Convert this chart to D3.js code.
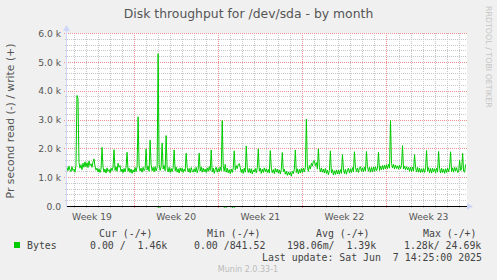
<!DOCTYPE html>
<html>
<head>
<meta charset="utf-8">
<script src="https://cdn.jsdelivr.net/npm/d3@7"></script>
<style>
  body { margin: 0; background: #f0f0f0; }
  svg { display: block; }
  text { font-family: "DejaVu Sans", sans-serif; }
  .mono { font-family: "DejaVu Sans Mono", monospace; white-space: pre; }
</style>
</head>
<body>
<svg id="chart" width="497" height="280"></svg>
<script>
// ---- data ----
const title = "Disk throughput for /dev/sda - by month";
const yLabel = "Pr second read (-) / write (+)";
const yTicks = [0, 1, 2, 3, 4, 5, 6];              // thousands of bytes / s
const rangeStart = "2025-05-05T10:04:00Z";
const rangeEnd = "2025-06-07T16:44:00Z";

// write bytes/s (in k), one sample every 2 hours, starting 2025-05-05 10:00 UTC
const writeStart = "2025-05-05T10:00:00Z";
const stepHours = 2;
const writeValues = [
  1.36, 1.24, 1.40, 1.27, 1.21, 1.38, 1.25,                              // May 5 (from 10:00)
  1.30, 1.19, 1.42, 3.85, 3.75, 1.52, 1.33, 1.45, 1.28, 1.50, 1.36, 1.55, // May 6
  1.38, 1.52, 1.35, 1.58, 1.42, 1.48, 1.36, 1.55, 1.65, 1.40, 1.26, 1.33, // May 7
  1.20, 1.31, 1.18, 1.29, 2.05, 1.36, 1.19, 1.30, 1.16, 1.34, 1.22, 1.28, // May 8
  1.17, 1.33, 1.24, 1.37, 1.97, 1.25, 1.38, 1.22, 1.50, 1.36, 1.42, 1.21, // May 9
  1.30, 1.17, 1.32, 1.20, 1.36, 1.88, 1.22, 1.34, 1.18, 1.30, 1.15, 1.27, // May 10
  1.19, 1.35, 1.21, 1.38, 3.11, 1.42, 1.23, 1.33, 1.19, 1.36, 1.24, 1.31, // May 11
  2.00, 1.27, 1.40, 1.22, 2.30, 1.45, 1.24, 1.36, 1.20, 1.38, 1.23, 1.35, // May 12
  5.30, 1.46, 1.25, 1.38, 2.20, 1.30, 1.42, 1.24, 2.46, 1.33, 1.20, 1.36, // May 13
  1.18, 1.32, 1.21, 1.35, 1.96, 1.24, 1.37, 1.19, 1.31, 1.16, 1.34, 1.22, // May 14
  1.33, 1.18, 1.30, 1.22, 1.85, 1.36, 1.20, 1.32, 1.17, 1.35, 1.24, 1.19, // May 15
  1.31, 1.20, 1.36, 1.17, 1.29, 1.85, 1.23, 1.37, 1.19, 1.33, 1.21, 1.30, // May 16
  1.18, 1.34, 1.22, 1.38, 1.25, 1.96, 1.20, 1.33, 1.15, 1.30, 1.36, 1.19, // May 17
  1.32, 1.21, 1.37, 1.24, 2.98, 1.40, 1.22, 1.46, 1.19, 1.33, 1.17, 1.28, // May 18
  1.14, 1.30, 1.18, 1.34, 1.93, 1.26, 1.42, 1.31, 1.45, 1.49, 1.35, 1.18, // May 19
  1.30, 1.15, 1.33, 1.19, 2.10, 1.34, 1.18, 1.32, 1.16, 1.31, 1.13, 1.27, // May 20
  1.20, 1.32, 1.17, 1.35, 2.00, 1.23, 1.33, 1.15, 1.30, 1.18, 1.34, 1.21, // May 21
  1.31, 1.18, 1.29, 1.16, 1.94, 1.33, 1.17, 1.28, 1.14, 1.32, 1.19, 1.30, // May 22
  1.16, 1.27, 1.13, 1.29, 1.87, 1.21, 1.30, 1.12, 1.22, 1.08, 1.20, 1.10, // May 23
  1.19, 1.05, 1.22, 1.14, 1.30, 1.96, 1.18, 1.31, 1.13, 1.29, 1.16, 1.32, // May 24
  1.18, 1.33, 1.20, 1.36, 3.03, 1.38, 1.22, 1.42, 1.30, 1.50, 1.40, 1.57, // May 25
  1.59, 1.42, 1.52, 1.30, 2.00, 1.36, 1.20, 1.34, 1.19, 1.30, 1.16, 1.32, // May 26
  1.15, 1.26, 1.10, 1.25, 1.93, 1.17, 1.28, 1.09, 1.24, 1.11, 1.27, 1.13, // May 27
  1.26, 1.12, 1.28, 1.15, 1.80, 1.30, 1.14, 1.29, 1.12, 1.27, 1.33, 1.16, // May 28
  1.31, 1.18, 1.35, 1.20, 1.90, 1.36, 1.21, 1.34, 1.18, 1.33, 1.38, 1.22, // May 29
  1.34, 1.20, 1.37, 1.23, 1.91, 1.38, 1.22, 1.36, 1.19, 1.35, 1.21, 1.37, // May 30
  1.22, 1.38, 1.24, 1.33, 1.88, 1.25, 1.40, 1.27, 1.42, 1.28, 1.44, 1.30, // May 31
  1.45, 1.31, 1.47, 1.33, 2.98, 1.49, 1.34, 1.46, 1.30, 1.44, 1.32, 1.41, // Jun 1
  1.29, 1.44, 1.31, 1.42, 2.11, 1.30, 1.40, 1.28, 1.38, 1.27, 1.36, 1.22, // Jun 2
  1.36, 1.21, 1.37, 1.23, 1.80, 1.35, 1.20, 1.36, 1.19, 1.33, 1.18, 1.31, // Jun 3
  1.19, 1.32, 1.18, 1.34, 1.94, 1.22, 1.35, 1.17, 1.32, 1.16, 1.33, 1.20, // Jun 4
  1.31, 1.17, 1.33, 1.19, 1.91, 1.32, 1.16, 1.33, 1.18, 1.30, 1.15, 1.31, // Jun 5
  1.18, 1.33, 1.20, 1.36, 1.90, 1.21, 1.34, 1.19, 1.36, 1.23, 1.35, 1.18, // Jun 6
  1.20, 1.60, 1.25, 1.30, 1.84, 1.22, 1.19, 1.46                          // Jun 7 (to 14:00)
];

// read bytes/s (in k), drawn negative; zero apart from a few blips
const readPoints = [
  ["2025-05-05T10:00:00Z", 0], ["2025-05-13T00:00:00Z", 0], ["2025-05-13T02:00:00Z", 0.45],
  ["2025-05-13T04:00:00Z", 0], ["2025-05-18T12:00:00Z", 0], ["2025-05-18T14:00:00Z", 1.28],
  ["2025-05-18T16:00:00Z", 0], ["2025-05-19T04:00:00Z", 0], ["2025-05-19T06:00:00Z", 0.62],
  ["2025-05-19T08:00:00Z", 0], ["2025-06-07T14:00:00Z", 0]
];

const legendHeads = ["Cur (-/+)", "Min (-/+)", "Avg (-/+)", "Max (-/+)"];
const legendValues = ["0.00 /  1.46k", "0.00 /841.52", "198.06m/  1.39k", "1.28k/ 24.69k"];
const seriesName = "Bytes";
const lastUpdate = "Last update: Sat Jun  7 14:25:00 2025";
const footer = "Munin 2.0.33-1";
const watermark = "RRDTOOL / TOBI OETIKER";

// ---- layout ----
const PL = 67, PR = 467, PT = 33, PB = 206;
const lineColor = "#00cc00";
const headX = [99, 207, 316, 423];
const valueX = [90, 194, 287, 404];

const svg = d3.select("#chart");

const x = d3.scaleUtc()
    .domain([new Date(rangeStart), new Date(rangeEnd)])
    .range([PL, PR]);
const y = d3.scaleLinear()
    .domain([0, 6])
    .range([PB + 0.5, PT + 0.5]);

const px = v => Math.round(v) + 0.5;

// canvas
svg.append("rect").attr("width", 497).attr("height", 280).attr("fill", "#f0f0f0");
svg.append("rect")
    .attr("x", PL).attr("y", PT)
    .attr("width", PR - PL).attr("height", PB - PT)
    .attr("fill", "#ffffff");

// grid
const grid = svg.append("g").attr("shape-rendering", "crispEdges");
const minorY = d3.range(1, 30).map(i => i / 5).filter(v => Math.abs(v - Math.round(v)) > 0.01);
const majorY = yTicks.filter(v => v > 0);
const days = d3.utcDay.range(x.domain()[0], x.domain()[1]);
const sundays = d3.utcSunday.range(x.domain()[0], x.domain()[1]);
const minorX = days.filter(d => d.getUTCDay() !== 0);

grid.selectAll(".gy").data(minorY).enter().append("line")
    .attr("x1", PL - 2).attr("x2", PR)
    .attr("y1", d => px(y(d) - 0.5)).attr("y2", d => px(y(d) - 0.5))
    .attr("stroke", "#c8c8c8").attr("stroke-dasharray", "1,1");
grid.selectAll(".gx").data(minorX).enter().append("line")
    .attr("x1", d => px(x(d))).attr("x2", d => px(x(d)))
    .attr("y1", PT).attr("y2", PB + 2)
    .attr("stroke", "#c8c8c8").attr("stroke-dasharray", "1,1");
grid.selectAll(".my").data(majorY).enter().append("line")
    .attr("x1", PL - 3).attr("x2", PR)
    .attr("y1", d => px(y(d) - 0.5)).attr("y2", d => px(y(d) - 0.5))
    .attr("stroke", "#f09090").attr("stroke-dasharray", "1,1");
grid.selectAll(".mx").data(sundays).enter().append("line")
    .attr("x1", d => px(x(d))).attr("x2", d => px(x(d)))
    .attr("y1", PT).attr("y2", PB + 3)
    .attr("stroke", "#f09090").attr("stroke-dasharray", "1,1");

// data
svg.append("clipPath").attr("id", "plotclip")
  .append("rect").attr("x", PL).attr("y", PT - 2).attr("width", PR - PL).attr("height", PB - PT + 4);

const t0 = new Date(writeStart).getTime();
const writeData = writeValues.map((v, i) => ({ t: new Date(t0 + i * stepHours * 3600e3), v }));
const readData = readPoints.map(([t, v]) => ({ t: new Date(t), v: -v }));

const line = d3.line().x(d => x(d.t)).y(d => y(d.v));

const plot = svg.append("g").attr("clip-path", "url(#plotclip)");
plot.append("path").datum(readData)
    .attr("d", line).attr("fill", "none")
    .attr("stroke", lineColor).attr("stroke-width", 1);
plot.append("path").datum(writeData)
    .attr("d", line).attr("fill", "none")
    .attr("stroke", lineColor).attr("stroke-width", 1)
    .attr("stroke-linejoin", "round");

// zero rule
svg.append("line")
    .attr("x1", PL).attr("x2", PR)
    .attr("y1", px(y(0) - 0.5)).attr("y2", px(y(0) - 0.5))
    .attr("stroke", "#000").attr("shape-rendering", "crispEdges");

// axes + arrows
const axisColor = "#cfd6f8";
svg.append("line")
    .attr("x1", PL - 0.5).attr("x2", PL - 0.5)
    .attr("y1", PB + 1).attr("y2", PT - 4)
    .attr("stroke", axisColor);
svg.append("path")
    .attr("d", `M${PL - 4},${PT - 2} L${PL + 3},${PT - 2} L${PL - 0.5},${PT - 8} Z`)
    .attr("fill", axisColor);
svg.append("path")
    .attr("d", `M${PR},${PB - 3} L${PR},${PB + 4} L${PR + 6},${PB + 0.5} Z`)
    .attr("fill", axisColor);

// y tick labels
svg.append("g").selectAll("text").data(yTicks).enter().append("text")
    .attr("x", 61).attr("y", d => y(d) + 3.3)
    .attr("text-anchor", "end")
    .attr("font-size", "9.2px").attr("fill", "#555")
    .text(d => d === 0 ? "0.0" : d3.format(".1f")(d) + " k");

// week labels
const weekFmt = d3.utcFormat("%V");
const weekMids = d3.utcSunday.range(d3.utcDay.offset(x.domain()[0], -7), x.domain()[1])
    .map(d => new Date(d.getTime() + 3.5 * 864e5))
    .filter(d => d >= x.domain()[0] && d <= x.domain()[1]);
svg.append("g").selectAll("text").data(weekMids).enter().append("text")
    .attr("x", d => x(d)).attr("y", 220)
    .attr("text-anchor", "middle")
    .attr("font-size", "9.2px").attr("fill", "#555")
    .text(d => "Week " + (+weekFmt(d)));

// titles
svg.append("text")
    .attr("x", 248.5).attr("y", 17.5)
    .attr("text-anchor", "middle")
    .attr("font-size", "12.4px").attr("fill", "#555")
    .text(title);
svg.append("text")
    .attr("transform", "translate(13.5,121) rotate(-90)")
    .attr("text-anchor", "middle")
    .attr("font-size", "10.8px").attr("fill", "#555")
    .text(yLabel);
svg.append("text")
    .attr("transform", "translate(485.5,6) rotate(90)")
    .attr("font-size", "7.9px").attr("fill", "#c4c4c4")
    .text(watermark);

// legend
const lg = svg.append("g").attr("font-size", "9.9px").attr("fill", "#444");
lg.selectAll(".h").data(legendHeads).enter().append("text")
    .attr("class", "mono").attr("xml:space", "preserve")
    .attr("x", (d, i) => headX[i]).attr("y", 237)
    .text(d => d);
lg.append("rect").attr("x", 14).attr("y", 242).attr("width", 6).attr("height", 6).attr("fill", lineColor);
lg.append("text").attr("class", "mono").attr("x", 27).attr("y", 249).text(seriesName);
lg.selectAll(".v").data(legendValues).enter().append("text")
    .attr("class", "mono").attr("xml:space", "preserve")
    .attr("x", (d, i) => valueX[i]).attr("y", 249)
    .text(d => d);
lg.append("text").attr("class", "mono").attr("xml:space", "preserve")
    .attr("x", 262).attr("y", 261).text(lastUpdate);

svg.append("text")
    .attr("x", 248).attr("y", 272)
    .attr("text-anchor", "middle")
    .attr("font-size", "8px").attr("fill", "#bbbbbb")
    .text(footer);
</script>
</body>
</html>
